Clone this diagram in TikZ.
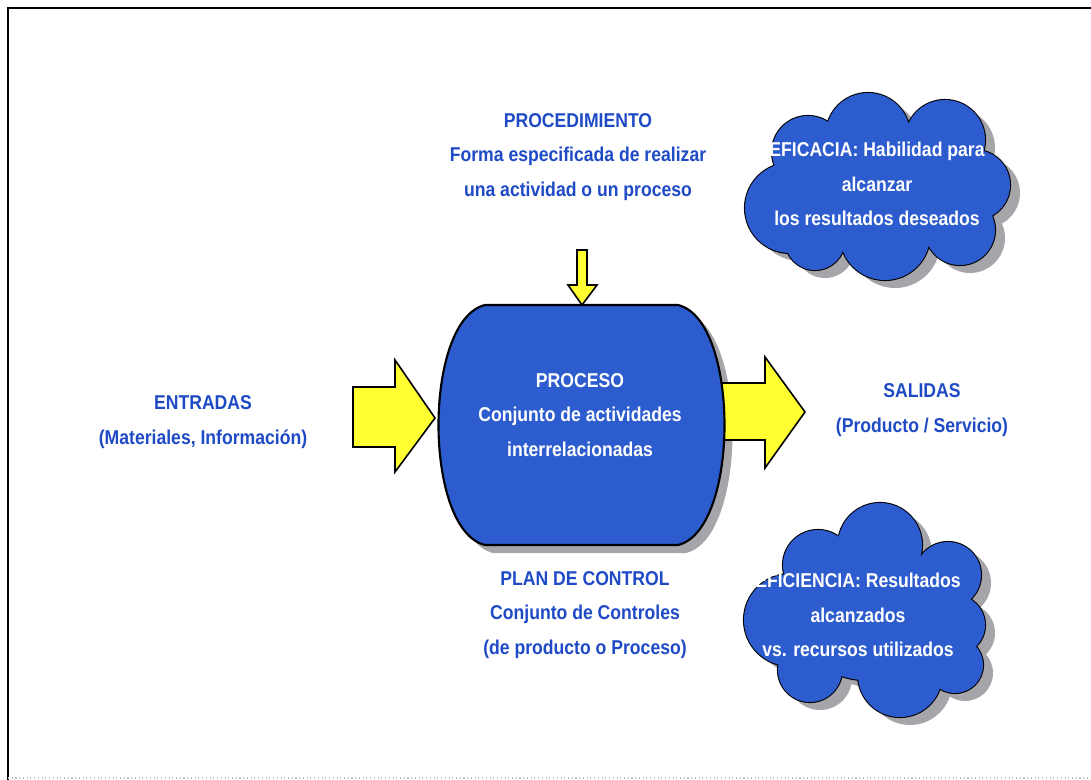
\documentclass[tikz,border=0pt]{standalone}
\usepackage{fontspec}
\newfontfamily\labelfont{Liberation Sans}[FakeStretch=0.88]
\definecolor{lblblue}{RGB}{30,74,198}
\definecolor{fillblue}{RGB}{44,92,206}
\definecolor{shadowgray}{RGB}{165,165,170}
\definecolor{arrowyellow}{RGB}{255,255,50}
\begin{document}
\begin{tikzpicture}[x=0.75pt,y=-0.75pt,
  lbl/.style={font=\labelfont\bfseries\fontsize{15}{26}\selectfont,
              align=center, text=lblblue, inner sep=0pt},
  lblwhite/.style={lbl, text=white},
  blockarrow/.style={fill=arrowyellow, draw=black, line width=1.2pt, line join=miter},
  outline/.style={draw=black, line width=1.6pt},
  shade/.style={fill=shadowgray}]
\useasboundingbox (0,0) rectangle (1091,780);

% page frame
\draw[line width=1.5pt] (8,780) -- (8,8) -- (1091,8);
\draw[black!25, line width=0.8pt, dotted] (8,778) -- (1091,778);

% cloud outlines as unions of circles: x/y/radius
\def\cloudA{808/152/36, 868/135/42, 945/140/40, 975/185/35, 790/208/45,
  815/240/30, 885/235/45, 960/230/35, 880/190/60, 935/190/45, 850/195/50}
\def\cloudB{880/545/42, 818/565/35, 948/575/33, 790/620/46, 955/625/30,
  810/670/32, 900/675/42, 955/665/28, 865/610/70, 910/625/45, 840/630/45}

% shadows
\fill[shade] \foreach \cx/\cy/\r in \cloudA {(\cx+10,\cy+8) circle[radius=\r]};
\fill[shade] \foreach \cx/\cy/\r in \cloudB {(\cx+10,\cy+8) circle[radius=\r]};
\fill[shade, shift={(8,8)}] (485,305) -- (678,305)
  .. controls (740,320) and (740,530) .. (678,545) -- (485,545)
  .. controls (423,530) and (423,320) .. (485,305) -- cycle;

% clouds: stroke every circle, then fill over the inner strokes
\draw[outline] \foreach \cx/\cy/\r in \cloudA {(\cx,\cy) circle[radius=\r]};
\fill[fillblue] \foreach \cx/\cy/\r in \cloudA {(\cx,\cy) circle[radius=\r]};
\draw[outline] \foreach \cx/\cy/\r in \cloudB {(\cx,\cy) circle[radius=\r]};
\fill[fillblue] \foreach \cx/\cy/\r in \cloudB {(\cx,\cy) circle[radius=\r]};

% output arrow sits under the process body
\draw[blockarrow] (720,383) -- (765,383) -- (765,357) -- (805,412)
  -- (765,468) -- (765,440) -- (720,440) -- cycle;

% process body
\draw[outline, fill=fillblue] (485,305) -- (678,305)
  .. controls (740,320) and (740,530) .. (678,545) -- (485,545)
  .. controls (423,530) and (423,320) .. (485,305) -- cycle;

% input and procedure arrows
\draw[blockarrow] (353,387) -- (395,387) -- (395,360) -- (435,418)
  -- (395,472) -- (395,447) -- (353,447) -- cycle;
\draw[blockarrow] (577,250) -- (587,250) -- (587,285) -- (597,285)
  -- (582,305) -- (568,285) -- (577,285) -- cycle;

% labels
\node[lbl] (procedimiento) at (578,157)
  {PROCEDIMIENTO\\Forma especificada de realizar\\una actividad o un proceso};
\node[lbl] (entradas) at (203,422) {ENTRADAS\\(Materiales, Información)};
\node[lblwhite] (proceso) at (580,415)
  {PROCESO\\Conjunto de actividades\\interrelacionadas};
\node[lbl] (salidas) at (922,410) {SALIDAS\\(Producto / Servicio)};
\node[lbl] (plan) at (585,615)
  {PLAN DE CONTROL\\Conjunto de Controles\\(de producto o Proceso)};
\node[lblwhite] (eficacia) at (877,184)
  {EFICACIA: Habilidad para\\alcanzar\\los resultados deseados};
\node[lblwhite] (eficiencia) at (858,615)
  {EFICIENCIA: Resultados\\alcanzados\\vs. recursos utilizados};
\end{tikzpicture}
\end{document}
